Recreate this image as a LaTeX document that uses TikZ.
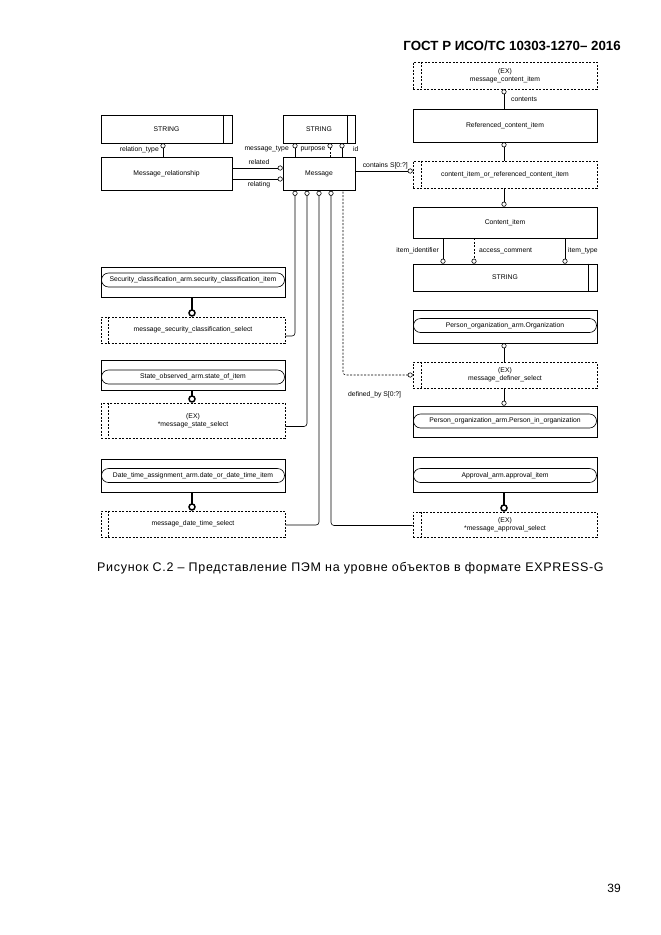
\documentclass[tikz,border=0pt]{standalone}
\usepackage{fontspec}
\setmainfont{Liberation Sans}
\usetikzlibrary{arrows.meta,calc}
\newcommand\dg{\fontsize{6.8}{8.2}\selectfont}
\begin{document}
\begin{tikzpicture}[x=1pt,y=-1pt,
  ent/.style={draw, line width=0.6pt, minimum width=184pt, inner sep=0pt, font=\dg, align=center},
  sel/.style={ent, dash pattern=on 2pt off 1.5pt},
  rr/.style={draw, line width=0.6pt, rounded corners=7pt, minimum width=183pt, minimum height=14pt, inner sep=0pt, font=\dg},
  lbl/.style={font=\dg, inner sep=1pt},
  opt/.style={line width=0.6pt, -{Circle[open,length=5pt,line width=0.6pt]}},
  thk/.style={line width=1.8pt, -{Circle[open,length=7.5pt,line width=1.5pt]}},
  dsh/.style={dash pattern=on 2pt off 1.5pt}]
\useasboundingbox (0,0) rectangle (661,935);
\fill[white] (0,0) rectangle (661,935);

% header, caption, page number
\node[anchor=east, font=\fontsize{13.3}{15}\selectfont\bfseries, inner sep=0pt] (hdr) at (621,46) {ГОСТ Р ИСО/ТС 10303-1270– 2016};
\node[anchor=west, font=\fontsize{12.5}{14}\selectfont\addfontfeature{LetterSpace=5.5}, inner sep=0pt] (cap) at (97,568) {Рисунок С.2 –  Представление ПЭМ на уровне объектов в формате EXPRESS-G};
\node[anchor=east, font=\fontsize{12}{14}\selectfont, inner sep=0pt] (pg) at (621,888) {39};

% top-left
\node[ent, minimum width=131pt, minimum height=28pt] (S1) at (166.5,129) {STRING};
\draw[line width=0.6pt] ([xshift=-9pt]S1.north east) -- ([xshift=-9pt]S1.south east);
\node[ent, minimum width=131pt, minimum height=33pt] (MR) at (166.5,173.5) {Message\_relationship};
\node[ent, minimum width=72pt, minimum height=28pt] (S2) at (319,129) {STRING};
\draw[line width=0.6pt] ([xshift=-8pt]S2.north east) -- ([xshift=-8pt]S2.south east);
\node[ent, minimum width=72pt, minimum height=33pt] (M) at (319,174) {Message};

\draw[opt] ([xshift=-3.5pt]MR.north) -- ([xshift=-3.5pt]S1.south);
\node[lbl, anchor=east] (lrt) at (160,150) {relation\_type};
\draw[opt] ([yshift=5.5pt]MR.east) -- ([yshift=5.5pt]MR.east -| M.west);
\draw[opt] ([yshift=-5.5pt]MR.east) -- ([yshift=-5.5pt]MR.east -| M.west);
\node[lbl] (lrel) at (259,162) {related};
\node[lbl] (lrelg) at (259,185) {relating};

\draw[opt] ([xshift=-24pt]M.north) -- ([xshift=-24pt]S2.south);
\draw[opt, dsh] ([xshift=11pt]M.north) -- ([xshift=11pt]S2.south);
\draw[opt] ([xshift=23pt]M.north) -- ([xshift=23pt]S2.south);
\node[lbl, anchor=east] (lmt) at (290,149) {message\_type};
\node[lbl] (lpu) at (313,149) {purpose};
\node[lbl, anchor=west] (lid) at (352,149) {id};

% right column
\node[sel, minimum height=27pt] (EXC) at (505,75.5) {(EX)\\message\_content\_item};
\draw[dsh, line width=0.6pt] ([xshift=9pt]EXC.north west) -- ([xshift=9pt]EXC.south west);
\node[ent, minimum height=33pt] (RCI) at (505,125.5) {Referenced\_content\_item};
\node[sel, minimum height=27pt] (CIRC) at (505,174.5) {content\_item\_or\_referenced\_content\_item};
\draw[dsh, line width=0.6pt] ([xshift=9pt]CIRC.north west) -- ([xshift=9pt]CIRC.south west);
\node[ent, minimum height=31pt] (CI) at (505,222.5) {Content\_item};
\node[ent, minimum height=27pt] (S3) at (505,277.5) {STRING};
\draw[line width=0.6pt] ([xshift=-9pt]S3.north east) -- ([xshift=-9pt]S3.south east);

\draw[opt] ([xshift=-1pt]RCI.north) -- ([xshift=-1pt]EXC.south);
\node[lbl, anchor=west] (lcon) at (510,99) {contents};
\draw[opt] ([xshift=-1pt]CIRC.north) -- ([xshift=-1pt]RCI.south);
\draw[opt] ([xshift=-1pt]CIRC.south) -- ([xshift=-1pt]CI.north);
\draw[opt] ([yshift=3pt]M.east) -- ([yshift=3pt]M.east -| CIRC.west);
\node[lbl, anchor=east] (lcs) at (409,166) {contains S[0:?]};

\draw[opt] ([xshift=-62pt]CI.south) -- ([xshift=-62pt]S3.north);
\draw[opt, dsh] ([xshift=-31pt]CI.south) -- ([xshift=-31pt]S3.north);
\draw[opt] ([xshift=60pt]CI.south) -- ([xshift=60pt]S3.north);
\node[lbl, anchor=east] (lii) at (440,251) {item\_identifier};
\node[lbl, anchor=west] (lac) at (478,251) {access\_comment};
\node[lbl, anchor=west] (lit) at (567,251) {item\_type};

\node[ent, minimum height=33pt] (PO) at (505,326.5) {};
\node[rr] (POr) at (505,325.5) {Person\_organization\_arm.Organization};
\node[sel, minimum height=26pt] (DS) at (505,375) {(EX)\\message\_definer\_select};
\draw[dsh, line width=0.6pt] ([xshift=9pt]DS.north west) -- ([xshift=9pt]DS.south west);
\node[ent, minimum height=31pt] (PIO) at (505,421.5) {};
\node[rr] (PIOr) at (505,421) {Person\_organization\_arm.Person\_in\_organization};
\draw[opt] ([xshift=-1pt]DS.north) -- ([xshift=-1pt]PO.south);
\draw[opt] ([xshift=-1pt]DS.south) -- ([xshift=-1pt]PIO.north);

\node[ent, minimum height=35pt] (AP) at (505,474.5) {};
\node[rr] (APr) at (505,475.5) {Approval\_arm.approval\_item};
\node[sel, minimum height=25pt] (APS) at (505,524.5) {(EX)\\*message\_approval\_select};
\draw[dsh, line width=0.6pt] ([xshift=9pt]APS.north west) -- ([xshift=9pt]APS.south west);
\draw[thk] ([xshift=-1pt]AP.south) -- ([xshift=-1pt]APS.north);

% left column
\node[ent, minimum height=30pt] (SC) at (193,282) {};
\node[rr] (SCr) at (193,280) {Security\_classification\_arm.security\_classification\_item};
\node[sel, minimum height=26pt] (SCS) at (193,330) {message\_security\_classification\_select};
\draw[dsh, line width=0.6pt] ([xshift=8pt]SCS.north west) -- ([xshift=8pt]SCS.south west);
\draw[thk] ([xshift=-1pt]SC.south) -- ([xshift=-1pt]SCS.north);

\node[ent, minimum height=30pt] (ST) at (193,375) {};
\node[rr] (STr) at (193,377) {State\_observed\_arm.state\_of\_item};
\node[sel, minimum height=35pt] (STS) at (193,420.5) {(EX)\\*message\_state\_select};
\draw[dsh, line width=0.6pt] ([xshift=8pt]STS.north west) -- ([xshift=8pt]STS.south west);
\draw[thk] ([xshift=-1pt]ST.south) -- ([xshift=-1pt]STS.north);

\node[ent, minimum height=33pt] (DT) at (193,475.5) {};
\node[rr] (DTr) at (193,475.5) {Date\_time\_assignment\_arm.date\_or\_date\_time\_item};
\node[sel, minimum height=26pt] (DTS) at (193,524) {message\_date\_time\_select};
\draw[dsh, line width=0.6pt] ([xshift=8pt]DTS.north west) -- ([xshift=8pt]DTS.south west);
\draw[thk] ([xshift=-1pt]DT.south) -- ([xshift=-1pt]DTS.north);

% connectors to Message bottom
\draw[opt, rounded corners=3pt] ([yshift=-6pt]SCS.east) -| ([xshift=-24pt]M.south);
\draw[opt, rounded corners=3pt] ([yshift=-6pt]STS.east) -| ([xshift=-12pt]M.south);
\draw[opt, rounded corners=3pt] ([yshift=-1pt]DTS.east) -| (M.south);
\draw[opt, rounded corners=3pt] ([yshift=-1pt]APS.west) -| ([xshift=12pt]M.south);
\draw[line width=0.6pt, dsh, rounded corners=3pt, {Circle[open,length=5pt,line width=0.6pt]}-] (DS.west) -| ([xshift=24pt]M.south);
\node[lbl, anchor=west] (ldb) at (347,395) {defined\_by S[0:?]};
\end{tikzpicture}
\end{document}
